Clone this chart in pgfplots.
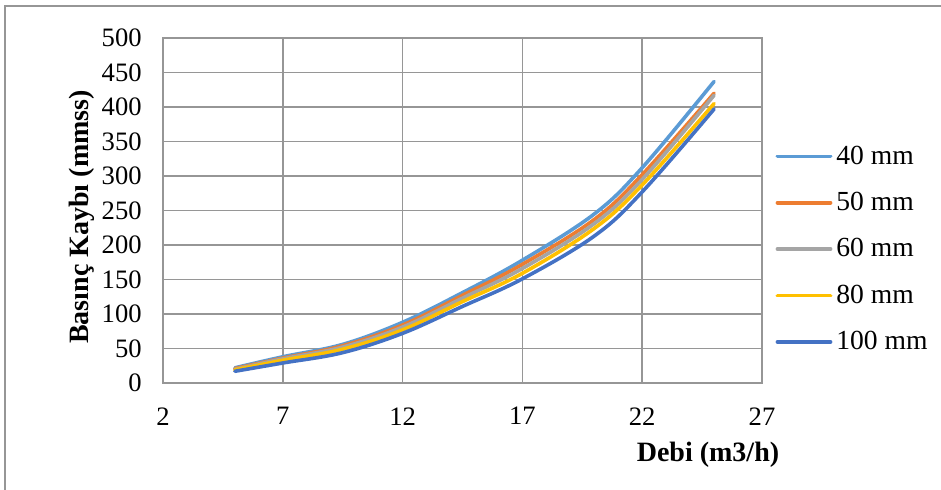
\documentclass[border=0pt]{standalone}
\usepackage{pgfplots}
\pgfplotsset{compat=1.18}
\usepackage{fontspec}
\setmainfont{Liberation Serif}

\definecolor{c40}{RGB}{91,155,213}
\definecolor{c50}{RGB}{237,125,49}
\definecolor{c60}{RGB}{165,165,165}
\definecolor{c80}{RGB}{255,192,0}
\definecolor{c100}{RGB}{68,114,196}
\definecolor{gridgray}{RGB}{150,150,150}

\begin{document}
\begin{tikzpicture}
  % page = 941x489 px at 0.5pt per px
  \useasboundingbox (0,0) rectangle (470.5pt,244.5pt);
  % chart frame (only left and top edges are inside the image)
  \draw[gridgray, line width=0.8pt] (2.5pt,-2pt) -- (2.5pt,241.5pt) -- (473pt,241.5pt);

  \begin{axis}[
      at={(81.5pt,53pt)}, anchor=south west,
      scale only axis,
      width=299.5pt, height=172.5pt,
      xmin=2, xmax=27, ymin=0, ymax=500,
      xtick={2,7,...,27}, ytick={0,50,...,500},
      grid=major,
      major grid style={gridgray, line width=0.8pt},
      axis line style={gridgray, line width=0.8pt},
      major tick length=0pt,
      tick label style={font=\fontsize{13.3}{15}\selectfont},
      /pgf/number format/assume math mode=true,
      xticklabel style={inner sep=0pt, yshift=-12pt},
      yticklabel style={inner sep=0pt, xshift=-10.5pt},
      legend style={draw=none, fill=none, at={(1.012,0.388)}, anchor=west,
        font=\fontsize{13.8}{15}\selectfont, row sep=8.5pt,
        nodes={inner xsep=2pt}},
      legend cell align=left,
      legend image code/.code={\draw[#1, line width=1.9pt, line cap=round] (0pt,0pt) -- (26.5pt,0pt);},
      every axis plot/.append style={line width=1.8pt, line cap=round, line join=round, smooth, tension=0.6},
    ]

    %% --- 40 mm ---
    \addplot[c40] coordinates {
      (5,22) (7,38) (9.5,56) (12,88) (14.5,131) (17,178) (20,245) (22,312) (25,437)
    };
    \addlegendentry{40 mm}
    %% --- 50 mm ---
    \addplot[c50] coordinates {
      (5,21) (7,36) (9.5,54) (12,84) (14.5,127) (17,172) (20,237) (22,302) (25,420)
    };
    \addlegendentry{50 mm}
    %% --- 60 mm ---
    \addplot[c60] coordinates {
      (5,20) (7,35) (9.5,52) (12,81) (14.5,123) (17,166) (20,231) (22,295) (25,417)
    };
    \addlegendentry{60 mm}
    %% --- 80 mm ---
    \addplot[c80] coordinates {
      (5,19) (7,33) (9.5,49) (12,77) (14.5,118) (17,159) (20,224) (22,287) (25,405)
    };
    \addlegendentry{80 mm}
    %% --- 100 mm ---
    \addplot[c100] coordinates {
      (5,17) (7,29) (9.5,44) (12,72) (14.5,111) (17,151) (20,213) (22,277) (25,397)
    };
    \addlegendentry{100 mm}
  \end{axis}

  %% --- axis titles ---
  \node[rotate=90, font=\fontsize{14}{16}\selectfont\bfseries] at (41pt,136pt)
    {Basınç Kaybı (mmss)};
  \node[font=\fontsize{14}{16}\selectfont\bfseries] at (354pt,17pt) {Debi (m3/h)};
\end{tikzpicture}
\end{document}
